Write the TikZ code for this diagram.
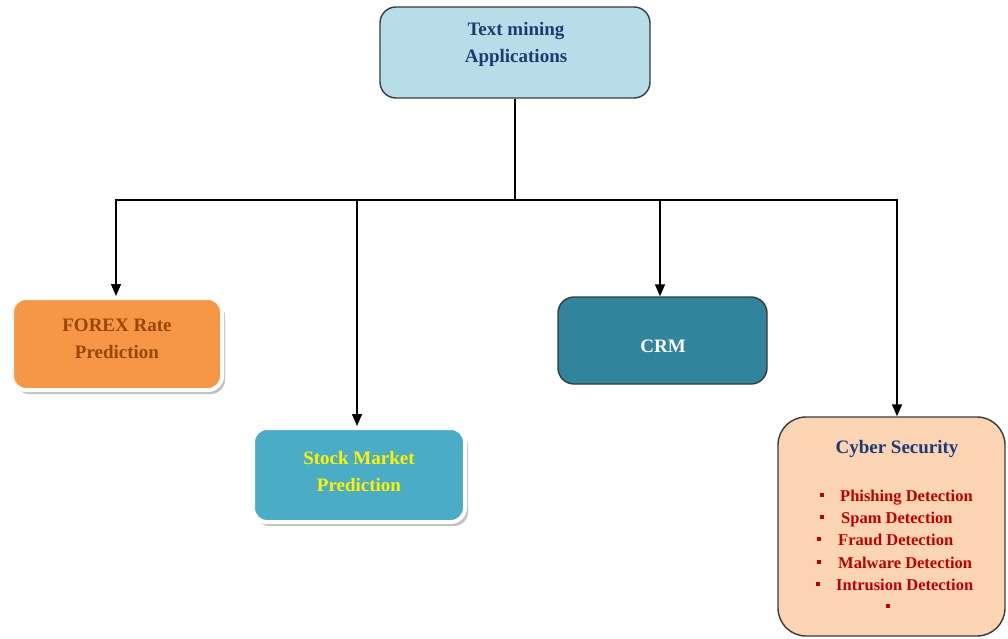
\documentclass[tikz,border=0pt]{standalone}
\usepackage{fontspec}
\setmainfont{Liberation Serif}
\usetikzlibrary{arrows.meta,shadows}
\definecolor{topfill}{HTML}{B7DEE8}
\definecolor{navy}{HTML}{1F3A73}
\definecolor{forexfill}{HTML}{F79646}
\definecolor{forextext}{HTML}{984806}
\definecolor{stockfill}{HTML}{4BACC6}
\definecolor{crmfill}{HTML}{31849B}
\definecolor{cyberfill}{HTML}{FBD4B4}
\definecolor{itemred}{HTML}{C00000}
\definecolor{edge}{HTML}{3A3A3A}
\tikzset{
  box/.style={rounded corners=16pt, draw=edge, line width=1.4pt},
  framedbox/.style={rounded corners=14pt, draw=white, line width=4pt,
    drop shadow={shadow xshift=3pt, shadow yshift=-4pt, fill=black!35, opacity=0.7}},
  label text/.style={align=center, inner sep=0pt, font=\fontsize{19}{27}\selectfont\bfseries},
  arr/.style={draw=black, line width=1.4pt, -{Triangle[length=12pt,width=10pt]}},
  item/.style={anchor=base west, text=itemred, inner sep=0pt,
    font=\fontsize{16.5}{20}\selectfont\bfseries},
  bullet/.style={fill=itemred, minimum size=4pt, inner sep=0pt}
}
\begin{document}
\begin{tikzpicture}[x=1pt,y=-1pt]
\useasboundingbox (0,0) rectangle (1008,639);
\clip (0,0) rectangle (1008,639);
\node[box, fill=topfill, minimum width=270pt, minimum height=91pt] (top) at (515,52.5) {};
\node[label text, text=navy] (toptext) at (516,44.5) {Text mining\\Applications};
\node[framedbox, fill=forexfill, minimum width=210pt, minimum height=92pt] (forex) at (117,344) {};
\node[label text, text=forextext] (forextxt) at (117,339) {FOREX Rate\\Prediction};
\node[framedbox, fill=stockfill, minimum width=212pt, minimum height=94pt] (stock) at (359,475) {};
\node[label text, text=yellow] (stocktxt) at (359,471) {Stock Market\\Prediction};
\node[box, fill=crmfill, minimum width=209pt, minimum height=87pt] (crm) at (662.5,340.5) {};
\node[label text, text=white] (crmtxt) at (663,346) {CRM};
\node[box, rounded corners=28pt, fill=cyberfill, minimum width=227pt, minimum height=219pt] (cyber) at (891.5,526.5) {};
\node[label text, text=navy] (ctitle) at (897,449) {Cyber Security};
\node[bullet] (b1) at (822,495) {};
\node[item] (i1) at (840,501) {Phishing Detection};
\node[bullet] (b2) at (822,517) {};
\node[item] (i2) at (841,523) {Spam Detection};
\node[bullet] (b3) at (819,539) {};
\node[item] (i3) at (838,545) {Fraud Detection};
\node[bullet] (b4) at (819,562) {};
\node[item] (i4) at (838,568) {Malware Detection};
\node[bullet] (b5) at (818,584) {};
\node[item] (i5) at (836,590) {Intrusion Detection};
\node[bullet] (b6) at (888,606) {};
\coordinate (c1) at (116,200);
\coordinate (c2) at (357,200);
\coordinate (c3) at (660,200);
\coordinate (c4) at (897,200);
\draw[arr] (top.south) |- (c1) -- (c1 |- forex.north);
\draw[arr] (c2) -- (c2 |- stock.north);
\draw[arr] (top.south) |- (c3) -- (c3 |- crm.north);
\draw[arr] (top.south) |- (c4) -- (c4 |- cyber.north);
\end{tikzpicture}
\end{document}
